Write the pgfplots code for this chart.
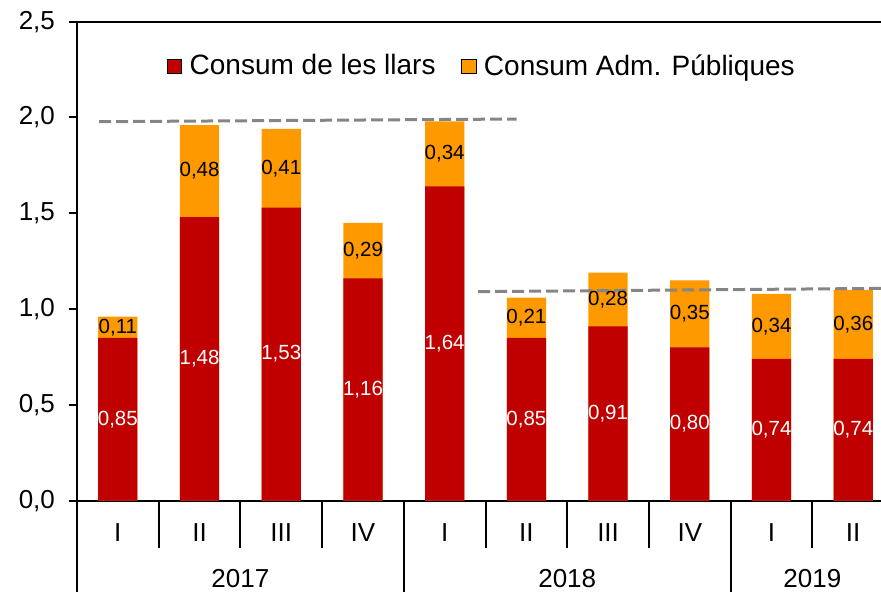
\documentclass[border=0pt]{standalone}
\usepackage{fontspec}
\setmainfont{Liberation Sans}
\usepackage{pgfplots}
\usepackage{pgfplotstable}
\pgfplotsset{compat=1.18}
\definecolor{llars}{HTML}{C00000}
\definecolor{adm}{HTML}{FF9900}
\definecolor{guia}{HTML}{858585}

% contribucions al creixement (pp)
\pgfplotstableread{
x red orange
0 0.85 0.11
1 1.48 0.48
2 1.53 0.41
3 1.16 0.29
4 1.64 0.34
5 0.85 0.21
6 0.91 0.28
7 0.80 0.35
8 0.74 0.34
9 0.74 0.36
}\dades

\newcommand{\ft}{\fontsize{13}{13}\selectfont}
\newcommand{\fl}{\fontsize{10.25}{10.25}\selectfont}

\begin{document}
\begin{tikzpicture}
\begin{axis}[
  scale only axis,
  width=402pt, height=239.5pt,
  xmin=-0.5, xmax=9.34,
  ymin=0, ymax=2.5,
  clip=false,
  axis x line*=bottom,
  axis y line*=left,
  axis line style={line width=1pt, black},
  tick align=outside,
  major tick length=4pt,
  ytick={0,0.5,1,1.5,2,2.5},
  ytick style={line width=1pt, black},
  yticklabel style={font=\ft, xshift=-3.5pt,
    /pgf/number format/.cd, fixed, fixed zerofill, precision=1, use comma},
  /pgf/number format/assume math mode=true,
  xtick={0,...,9},
  xticklabels={I,II,III,IV,I,II,III,IV,I,II},
  x tick style={draw=none},
  xticklabel style={font=\ft, anchor=center, yshift=-12pt},
  legend style={draw=none, fill=none, at={(0.505,0.907)}, anchor=center,
    font=\fontsize{14}{14}\selectfont,
    /tikz/every odd column/.append style={column sep=2pt},
    /tikz/every even column/.append style={column sep=11pt}},
  legend columns=2,
]
\coordinate (bl) at (rel axis cs:0,0);
\coordinate (tr) at (rel axis cs:1,1);

\addlegendimage{only marks, mark=square*, mark size=3.6pt, mark options={draw=none, fill=llars}}
\addlegendentry{Consum de les llars}
\addlegendimage{only marks, mark=square*, mark size=3.6pt, mark options={draw=none, fill=adm}}
\addlegendentry{Consum Adm. Públiques}

% barres apilades
\addplot[ybar, bar width=0.48, bar shift=0pt, fill=adm, draw=none, forget plot]
  table[x=x, y expr=\thisrow{red}+\thisrow{orange}] {\dades};
\addplot[ybar, bar width=0.48, bar shift=0pt, fill=llars, draw=none, forget plot]
  table[x=x, y=red] {\dades};

% etiquetes
\addplot[draw=none, no markers, forget plot, point meta=\thisrow{red},
  nodes near coords={\pgfmathprintnumber[fixed, fixed zerofill, precision=2, use comma]{\pgfplotspointmeta}},
  nodes near coords style={anchor=center, text=white, font=\fl}]
  table[x=x, y expr=\thisrow{red}/2] {\dades};
\addplot[draw=none, no markers, forget plot, point meta=\thisrow{orange},
  nodes near coords={\pgfmathprintnumber[fixed, fixed zerofill, precision=2, use comma]{\pgfplotspointmeta}},
  nodes near coords style={anchor=center, text=black, font=\fl}]
  table[x=x, y expr=\thisrow{red}+\thisrow{orange}/2] {\dades};

% linies de referencia
\addplot[guia, line width=1.5pt, dash pattern=on 6pt off 2.5pt, no markers, forget plot]
  coordinates {(-0.23,1.978) (4.88,1.992)};
\addplot[guia, line width=1.5pt, dash pattern=on 6pt off 2.5pt, no markers, forget plot]
  coordinates {(4.41,1.091) (9.34,1.108)};

\draw[line width=1pt] (rel axis cs:0,1) -- (rel axis cs:1,1);
\pgfplotsinvokeforeach{0.5,1.5,2.5,4.5,5.5,6.5,8.5}{
  \draw[line width=1pt] (axis cs:#1,0) -- ([yshift=-23.5pt]axis cs:#1,0);
}
\pgfplotsinvokeforeach{-0.5,3.5,7.5}{
  \draw[line width=1pt] (axis cs:#1,0) -- ([yshift=-47pt]axis cs:#1,0);
}
\node[font=\ft] at ([yshift=-39pt]axis cs:1.5,0) {2017};
\node[font=\ft] at ([yshift=-39pt]axis cs:5.5,0) {2018};
\node[font=\ft] at ([yshift=-39pt]axis cs:8.5,0) {2019};
\end{axis}
\pgfresetboundingbox
\path[use as bounding box] ([xshift=-38.5pt,yshift=-45.5pt]bl) rectangle ([yshift=10.85pt]tr);
\end{tikzpicture}
\end{document}
